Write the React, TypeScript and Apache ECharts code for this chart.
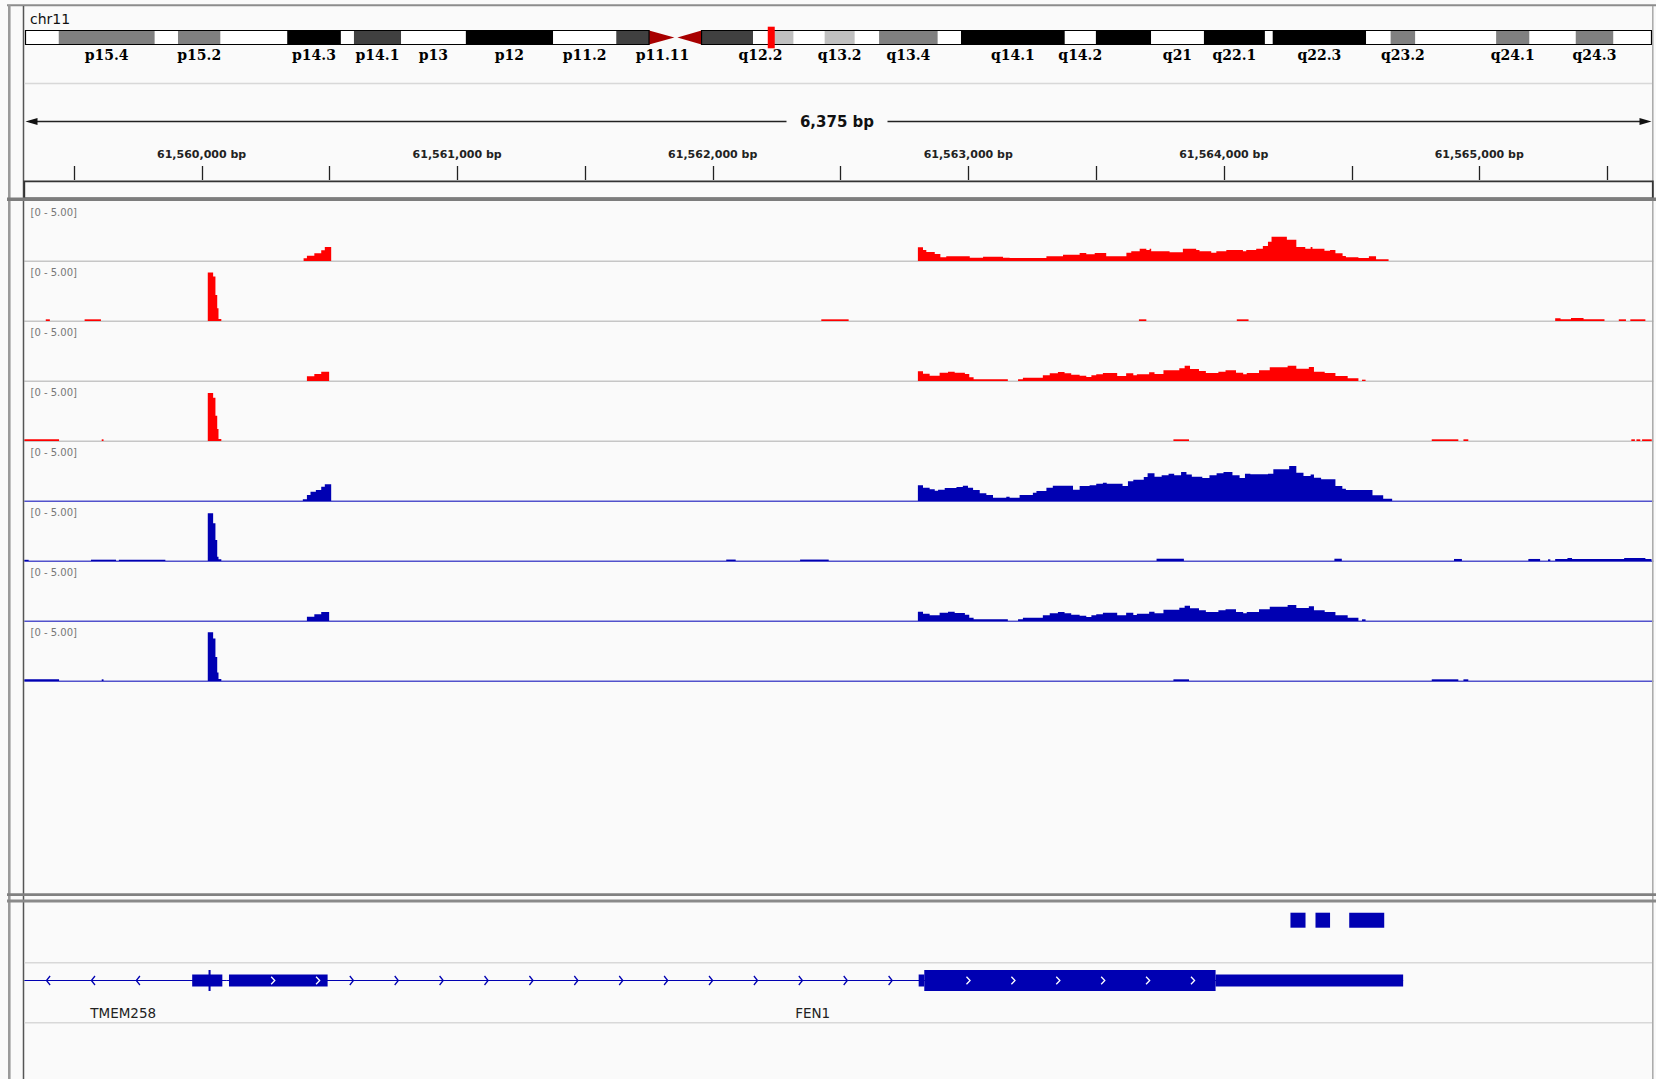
import { useEffect, useRef } from "react";
import * as echarts from "echarts";

// ---------------- data ----------------
const CHROMOSOME = "chr11";
const CHROM_LENGTH_MB = 135.0;
const REGION_START = 61559306;
const REGION_END = 61565681;

const BAND_NAMES = ["p15.5","p15.4","p15.3","p15.2","p15.1","p14.3","p14.2","p14.1","p13","p12","p11.2","p11.12","p11.11","q11","q12.1","q12.2","q12.3","q13.1","q13.2","q13.3","q13.4","q13.5","q14.1","q14.2","q14.3","q21","q22.1","q22.2","q22.3","q23.1","q23.2","q23.3","q24.1","q24.2","q24.3","q25"];
const BAND_STARTS_MB = [0,2.76,10.72,12.66,16.18,21.73,26.18,27.27,31.18,36.56,43.8,49.05,51.77,54.0,56.13,60.4,61.65,63.76,66.35,68.84,70.87,75.73,77.67,86.28,88.87,93.45,97.84,102.9,103.55,111.3,113.34,115.38,122.1,124.86,128.71,131.83];
const BAND_STAINS = ["gneg","gpos50","gneg","gpos50","gneg","gpos100","gneg","gpos75","gneg","gpos100","gneg","gpos75","acen","acen","gpos75","gneg","gpos25","gneg","gpos25","gneg","gpos50","gneg","gpos100","gneg","gpos100","gneg","gpos100","gneg","gpos100","gneg","gpos50","gneg","gpos50","gneg","gpos50","gneg"];
const LABELLED_BANDS = ["p15.4","p15.2","p14.3","p14.1","p13","p12","p11.2","p11.11","q12.2","q13.2","q13.4","q14.1","q14.2","q21","q22.1","q22.3","q23.2","q24.1","q24.3"];

const RULER_TICKS = [61559500,61560000,61560500,61561000,61561500,61562000,61562500,61563000,61563500,61564000,61564500,61565000,61565500];
const RULER_LABELS = [61560000,61561000,61562000,61563000,61564000,61565000];

const DATA_RANGE = [0, 5];

// coverage steps: [offset from REGION_START (bp), value]; each step runs to the next
const TRACK_1 = [[1093,0.22],[1106,0.44],[1135,0.64],[1162,0.89],[1176,1.17],[1201,0],
[3497,1.14],[3517,0.92],[3530,0.75],[3563,0.58],[3585,0.31],[3608,0.39],[3700,0.28],[3752,0.36],[3830,0.28],[3856,0.25],[4000,0.39],[4065,0.53],[4130,0.67],[4156,0.56],[4189,0.67],[4234,0.39],[4313,0.69],[4332,0.81],[4365,1.03],[4391,0.92],[4404,1.03],[4410,0.81],[4482,0.72],[4534,1.03],[4586,0.92],[4599,0.81],[4645,0.69],[4665,0.81],[4704,0.92],[4769,0.81],[4782,0.92],[4821,1.03],[4847,1.25],[4867,1.61],[4881,2.03],[4941,1.78],[4978,1.17],[5013,1.03],[5034,1.17],[5041,1.03],[5088,0.86],[5110,0.92],[5131,0.64],[5159,0.42],[5172,0.31],[5221,0.25],[5262,0.39],[5290,0.14],[5339,0]];
const TRACK_2 = [[84,0.14],[100,0],[236,0.14],[300,0],[718,4.05],[739,3.7],[748,2.17],[755,1.06],[760,0.17],[771,0],[3119,0.14],[3226,0],[4362,0.14],[4391,0],[4745,0.14],[4791,0],[5991,0.22],[6012,0.14],[6053,0.25],[6102,0.14],[6184,0],[6240,0.14],[6268,0],[6285,0.14],[6344,0]];
const TRACK_3 = [[1106,0.39],[1135,0.58],[1162,0.78],[1193,0],
[3497,0.81],[3517,0.61],[3543,0.44],[3582,0.69],[3615,0.78],[3641,0.69],[3681,0.58],[3698,0.31],[3715,0.14],[3849,0],[3889,0.14],[3908,0.28],[3986,0.47],[4013,0.64],[4045,0.75],[4071,0.64],[4097,0.53],[4130,0.44],[4156,0.33],[4176,0.47],[4195,0.56],[4221,0.67],[4277,0.42],[4312,0.64],[4340,0.47],[4354,0.56],[4402,0.72],[4423,0.58],[4458,0.89],[4520,1.06],[4541,1.28],[4562,1.0],[4597,0.83],[4624,0.67],[4673,0.78],[4701,0.89],[4742,0.69],[4770,0.56],[4784,0.67],[4832,0.89],[4874,1.14],[4944,1.28],[4978,1.03],[5027,1.17],[5047,0.78],[5089,0.67],[5131,0.42],[5179,0.22],[5221,0],[5235,0.11],[5249,0]];
const TRACK_4 = [[0,0.14],[136,0],[303,0.14],[310,0],[718,4.0],[739,3.6],[748,2.1],[755,1.0],[760,0.17],[771,0],[4497,0.14],[4558,0],[5508,0.14],[5612,0],[5632,0.14],[5651,0],[6289,0.14],[6303,0],[6309,0.14],[6324,0],[6331,0.14],[6369,0]];
const TRACK_5 = [[1090,0.14],[1106,0.5],[1120,0.78],[1141,0.92],[1162,1.19],[1176,1.39],[1201,0],
[3497,1.31],[3517,1.11],[3543,0.97],[3563,0.86],[3576,0.94],[3602,1.08],[3648,1.17],[3673,1.28],[3693,1.11],[3713,0.92],[3739,0.64],[3765,0.5],[3791,0.28],[3843,0.36],[3856,0.28],[3895,0.5],[3947,0.69],[3961,0.83],[4000,1.11],[4025,1.28],[4104,0.94],[4130,1.25],[4169,1.31],[4195,1.44],[4221,1.53],[4236,1.44],[4298,1.25],[4319,1.64],[4340,1.78],[4381,2.0],[4396,2.31],[4423,2.03],[4451,2.14],[4478,2.28],[4500,2.14],[4527,2.42],[4548,2.2],[4569,2.03],[4610,1.92],[4638,2.14],[4666,2.31],[4693,2.42],[4728,2.14],[4756,1.92],[4777,2.28],[4798,2.22],[4867,2.28],[4888,2.64],[4950,2.92],[4978,2.36],[5006,2.08],[5034,2.2],[5047,1.94],[5075,1.81],[5131,1.25],[5158,1.03],[5172,0.92],[5276,0.47],[5318,0.19],[5353,0]];
const TRACK_6 = [[0,0.1],[17,0],[261,0.11],[359,0],[370,0.11],[552,0],[718,3.97],[739,3.14],[748,1.75],[755,0.36],[760,0.14],[771,0],[2747,0.12],[2784,0],[3036,0.12],[3148,0],[4431,0.19],[4538,0],[5127,0.19],[5156,0],[5595,0.17],[5626,0],[5886,0.17],[5932,0],[5963,0.14],[5972,0],[5991,0.17],[6039,0.25],[6057,0.17],[6261,0.25],[6344,0.17],[6368,0]];
const TRACK_7 = [[1106,0.36],[1135,0.56],[1162,0.75],[1193,0],
[3497,0.78],[3517,0.61],[3543,0.47],[3582,0.69],[3615,0.78],[3641,0.67],[3681,0.53],[3698,0.28],[3715,0.14],[3849,0],[3889,0.14],[3908,0.28],[3986,0.47],[4013,0.64],[4045,0.75],[4071,0.64],[4097,0.53],[4130,0.44],[4156,0.33],[4176,0.47],[4195,0.56],[4221,0.69],[4277,0.47],[4312,0.69],[4340,0.5],[4354,0.61],[4402,0.78],[4423,0.64],[4458,0.94],[4520,1.11],[4541,1.28],[4562,1.06],[4597,0.89],[4624,0.75],[4673,0.89],[4701,0.97],[4742,0.75],[4770,0.64],[4784,0.75],[4832,0.97],[4874,1.19],[4944,1.33],[4978,1.08],[5027,1.22],[5047,0.89],[5089,0.75],[5131,0.47],[5179,0.28],[5221,0],[5235,0.14],[5249,0]];
const TRACK_8 = [[0,0.14],[136,0],[303,0.14],[310,0],[718,4.06],[739,3.55],[748,2.0],[755,0.7],[760,0.17],[771,0],[4497,0.14],[4558,0],[5508,0.14],[5612,0],[5632,0.14],[5651,0]];

const GENE_NAMES = ["TMEM258", "FEN1"];
const GENE_STRANDS = ["-", "+"];
const GENE_SPANS = [[-300, 790], [790, 5396]];
const TMEM258_EXONS = [[657, 775, "utr"], [721, 729, "cds"]];
const FEN1_EXONS = [[801, 1187, "utr"], [3500, 3522, "utr"], [3522, 4662, "cds"], [4662, 5396, "utr3"]];
const OTHER_FEATURES = [[4955, 5014], [5053, 5110], [5185, 5322]];

// ---------------- layout / style ----------------
const W = 1656, H = 1079;
const DL = 24.3, DW = 1629;
const TRACK_TOP = 201, TRACK_H = 60;
const RED = "#ff0000", BLUE = "#0000b2";
const TRACKS = [TRACK_1, TRACK_2, TRACK_3, TRACK_4, TRACK_5, TRACK_6, TRACK_7, TRACK_8];
const TRACK_COLORS = [RED, RED, RED, RED, BLUE, BLUE, BLUE, BLUE];
const BASELINE_COLORS = ["#c6c6c6", "#c6c6c6", "#c6c6c6", "#c6c6c6", "#5252cc", "#5252cc", "#5252cc", "#5252cc"];
const STAIN_COLOR: any = { gneg: "#ffffff", gpos25: "#c0c0c0", gpos50: "#808080", gpos75: "#404040", gpos100: "#000000", acen: "#a80000" };
const GY = 980.5;
const SANS = "'DejaVu Sans', sans-serif";

// split a step list into contiguous runs of non-zero coverage: [[startIdx, endIdx], ...]
function stepRuns(steps: number[][]) {
  const runs: number[][] = [];
  let i = 0;
  while (i < steps.length - 1) {
    if (steps[i][1] > 0) {
      let j = i;
      while (j < steps.length - 1 && steps[j][1] > 0) j++;
      runs.push([i, j]);
      i = j;
    } else i++;
  }
  return runs;
}

function chev(x: number, y: number, dir: number, color: string, hh: number) {
  const pts = dir > 0 ? [[x - 1.8, y - hh], [x + 1.8, y], [x - 1.8, y + hh]] : [[x + 1.8, y - hh], [x - 1.8, y], [x + 1.8, y + hh]];
  return { type: "polyline", shape: { points: pts }, style: { stroke: color, lineWidth: 1.3, fill: null } };
}

function buildOption() {
  const bandEnds = BAND_STARTS_MB.map((s, i) => (i < BAND_STARTS_MB.length - 1 ? BAND_STARTS_MB[i + 1] : CHROM_LENGTH_MB));
  const acenIdx = BAND_STAINS.map((s, i) => (s === "acen" ? i : -1)).filter((i) => i >= 0);
  const arms = [[0, BAND_STARTS_MB[acenIdx[0]]], [bandEnds[acenIdx[acenIdx.length - 1]], CHROM_LENGTH_MB]];

  const grids: any[] = [
    { left: 25.5, top: 30.5, width: 1626, height: 14 },
    { left: DL, top: 160, width: DW, height: 20 },
  ];
  const xAxes: any[] = [
    { gridIndex: 0, type: "value", min: 0, max: CHROM_LENGTH_MB, show: false },
    { gridIndex: 1, type: "value", min: REGION_START, max: REGION_END, show: false },
  ];
  const yAxes: any[] = [
    { gridIndex: 0, type: "value", min: 0, max: 1, show: false },
    { gridIndex: 1, type: "value", min: 0, max: 1, show: false },
  ];
  TRACKS.forEach((_, i) => {
    grids.push({ left: DL, top: TRACK_TOP + TRACK_H * i, width: DW, height: TRACK_H });
    xAxes.push({ gridIndex: 2 + i, type: "value", min: REGION_START, max: REGION_END, show: false });
    yAxes.push({ gridIndex: 2 + i, type: "value", min: DATA_RANGE[0], max: DATA_RANGE[1], show: false });
  });
  const GI = 2 + TRACKS.length;
  grids.push({ left: DL, top: 903, width: DW, height: 118 });
  xAxes.push({ gridIndex: GI, type: "value", min: REGION_START, max: REGION_END, show: false });
  yAxes.push({ gridIndex: GI, type: "value", min: 0, max: 1, show: false });

  const series: any[] = [];
  // ideogram bands
  series.push({
    type: "custom", xAxisIndex: 0, yAxisIndex: 0, clip: false, silent: true,
    data: BAND_STARTS_MB.map((s, i) => [s, bandEnds[i]]),
    encode: { x: [0, 1] },
    renderItem: (params: any, api: any) => {
      const i = params.dataIndex;
      const a = api.coord([api.value(0), 1]);
      const b = api.coord([api.value(1), 0]);
      const top = a[1], bottom = b[1], mid = (top + bottom) / 2;
      const stain = BAND_STAINS[i];
      if (stain === "acen") {
        const isP = BAND_NAMES[i].startsWith("p");
        const pts = isP ? [[a[0], top], [a[0], bottom], [b[0] - 1.5, mid]] : [[b[0], top], [b[0], bottom], [a[0] + 1.5, mid]];
        return { type: "polygon", shape: { points: pts }, style: { fill: STAIN_COLOR.acen } };
      }
      return { type: "rect", shape: { x: a[0], y: top, width: b[0] - a[0] + 0.4, height: bottom - top }, style: { fill: STAIN_COLOR[stain] } };
    },
  });
  // arm outlines
  series.push({
    type: "custom", xAxisIndex: 0, yAxisIndex: 0, clip: false, silent: true,
    data: arms, encode: { x: [0, 1] },
    renderItem: (params: any, api: any) => {
      const a = api.coord([api.value(0), 1]);
      const b = api.coord([api.value(1), 0]);
      return { type: "rect", shape: { x: a[0], y: a[1], width: b[0] - a[0], height: b[1] - a[1] }, style: { fill: null, stroke: "#000", lineWidth: 1.2 } };
    },
  });
  // current region marker
  series.push({
    type: "custom", xAxisIndex: 0, yAxisIndex: 0, clip: false, silent: true,
    data: [[REGION_START / 1e6, REGION_END / 1e6]], encode: { x: [0, 1] },
    renderItem: (params: any, api: any) => {
      const a = api.coord([api.value(0), 1]);
      const b = api.coord([api.value(1), 0]);
      const w = Math.max(b[0] - a[0], 7);
      return { type: "rect", shape: { x: a[0] + 0.8, y: a[1] - 3.8, width: w, height: b[1] - a[1] + 7.6 }, style: { fill: "#ff0000" } };
    },
  });
  // band labels
  const labelled = BAND_NAMES.map((n, i) => i).filter((i) => LABELLED_BANDS.includes(BAND_NAMES[i]));
  series.push({
    type: "custom", xAxisIndex: 0, yAxisIndex: 0, clip: false, silent: true,
    data: labelled.map((i) => [(BAND_STARTS_MB[i] + bandEnds[i]) / 2, i]), encode: { x: 0 },
    renderItem: (params: any, api: any) => {
      const p = api.coord([api.value(0), 0]);
      return { type: "text", style: { text: BAND_NAMES[api.value(1)], x: p[0], y: 55, textAlign: "center", textVerticalAlign: "middle", align: "center", verticalAlign: "middle", font: "bold 14px 'DejaVu Serif', serif", fill: "#000" } };
    },
  });
  // ruler ticks
  series.push({
    type: "custom", xAxisIndex: 1, yAxisIndex: 1, clip: false, silent: true,
    data: RULER_TICKS.map((t) => [t]), encode: { x: 0 },
    renderItem: (params: any, api: any) => {
      const x = Math.round(api.coord([api.value(0), 0])[0]) + 0.5;
      return { type: "line", shape: { x1: x, y1: 166, x2: x, y2: 180 }, style: { stroke: "#222", lineWidth: 1.3 } };
    },
  });
  series.push({
    type: "custom", xAxisIndex: 1, yAxisIndex: 1, clip: false, silent: true,
    data: RULER_LABELS.map((t) => [t]), encode: { x: 0 },
    renderItem: (params: any, api: any) => {
      const v = api.value(0);
      const x = api.coord([v, 0])[0];
      return { type: "text", style: { text: Number(v).toLocaleString("en-US") + " bp", x, y: 154.5, textAlign: "center", textVerticalAlign: "middle", align: "center", verticalAlign: "middle", font: "bold 11px " + SANS, fill: "#222" } };
    },
  });
  // coverage tracks: each contiguous run drawn as one step polygon
  TRACKS.forEach((steps, i) => {
    const color = TRACK_COLORS[i];
    const runs = stepRuns(steps);
    series.push({
      type: "custom", xAxisIndex: 2 + i, yAxisIndex: 2 + i, clip: true, silent: true,
      data: runs.map(([a, b]) => [REGION_START + steps[a][0], REGION_START + steps[b][0], a, b]),
      encode: { x: [0, 1] },
      renderItem: (params: any, api: any) => {
        const a = api.value(2), b = api.value(3);
        const base = api.coord([REGION_START + steps[a][0], 0])[1];
        const pts: number[][] = [];
        pts.push([api.coord([REGION_START + steps[a][0], 0])[0], base]);
        for (let k = a; k < b; k++) {
          const x0 = api.coord([REGION_START + steps[k][0], 0])[0];
          const x1 = api.coord([REGION_START + steps[k + 1][0], 0])[0];
          let y = api.coord([REGION_START + steps[k][0], steps[k][1]])[1];
          if (base - y < 1) y = base - 1;
          pts.push([x0, y]);
          pts.push([Math.max(x1, x0 + 1), y]);
        }
        pts.push([pts[pts.length - 1][0], base]);
        return { type: "polygon", shape: { points: pts }, style: { fill: color } };
      },
    });
  });
  // genes
  const geneExons = [TMEM258_EXONS, FEN1_EXONS];
  series.push({
    type: "custom", xAxisIndex: GI, yAxisIndex: GI, clip: true, silent: true,
    data: GENE_SPANS.map((s) => [REGION_START + s[0], REGION_START + s[1]]), encode: { x: [0, 1] },
    renderItem: (params: any, api: any) => {
      const gi = params.dataIndex;
      const px = (off: number) => api.coord([REGION_START + off, 0])[0];
      const dir = GENE_STRANDS[gi] === "+" ? 1 : -1;
      const [gs, ge] = GENE_SPANS[gi];
      const x0 = Math.max(px(gs), DL), x1 = Math.min(px(ge), DL + DW);
      const children: any[] = [];
      children.push({ type: "line", shape: { x1: x0, y1: GY, x2: x1, y2: GY }, style: { stroke: BLUE, lineWidth: 1.2 } });
      const exons: any[] = geneExons[gi];
      const ranges = exons.map((e) => [px(e[0]), px(e[1])]).sort((a, b) => a[0] - b[0]);
      const merged: number[][] = [];
      for (const r of ranges) {
        const last = merged[merged.length - 1];
        if (last && r[0] <= last[1] + 0.5) last[1] = Math.max(last[1], r[1]);
        else merged.push([r[0], r[1]]);
      }
      let cursor = x0;
      const gaps: number[][] = [];
      for (const m of merged) {
        if (m[0] > cursor) gaps.push([cursor, m[0]]);
        cursor = Math.max(cursor, m[1]);
      }
      if (x1 > cursor) gaps.push([cursor, x1]);
      for (const [a, b] of gaps) for (let x = a + 24; x < b - 14; x += 44.9) children.push(chev(x, GY, dir, BLUE, 4.5));
      for (const e of exons) {
        const a = px(e[0]), b = px(e[1]);
        const h = e[2] === "cds" ? 21 : 12;
        children.push({ type: "rect", shape: { x: a, y: GY - h / 2, width: Math.max(b - a, 1.5), height: h }, style: { fill: BLUE } });
      }
      for (const e of exons) {
        if (e[2] === "utr3") continue;
        const a = px(e[0]), b = px(e[1]);
        for (let x = a + 44; x < b - 7; x += 44.9) children.push(chev(x, GY, dir, "#ffffff", 3.8));
      }
      return { type: "group", children };
    },
  });
  series.push({
    type: "custom", xAxisIndex: GI, yAxisIndex: GI, clip: true, silent: true,
    data: OTHER_FEATURES.map((f) => [REGION_START + f[0], REGION_START + f[1]]), encode: { x: [0, 1] },
    renderItem: (params: any, api: any) => {
      const a = api.coord([api.value(0), 0])[0];
      const b = api.coord([api.value(1), 0])[0];
      return { type: "rect", shape: { x: a, y: 912.7, width: b - a, height: 15 }, style: { fill: BLUE } };
    },
  });
  series.push({
    type: "custom", xAxisIndex: GI, yAxisIndex: GI, clip: false, silent: true,
    data: GENE_SPANS.map((s, i) => {
      const a = Math.max(s[0], 0), b = Math.min(s[1], REGION_END - REGION_START);
      return [REGION_START + (a + b) / 2, i];
    }),
    encode: { x: 0 },
    renderItem: (params: any, api: any) => {
      const x = api.coord([api.value(0), 0])[0];
      return { type: "text", style: { text: GENE_NAMES[api.value(1)], x: x - 2, y: 1013, textAlign: "center", textVerticalAlign: "middle", align: "center", verticalAlign: "middle", font: "13.5px " + SANS, fill: "#222" } };
    },
  });

  // static decorations
  const g: any[] = [];
  const line = (x1: number, y1: number, x2: number, y2: number, stroke: string, lw: number, z = 50) =>
    g.push({ type: "line", silent: true, z, shape: { x1, y1, x2, y2 }, style: { stroke, lineWidth: lw } });
  // baselines (under data)
  TRACKS.forEach((_, i) => {
    const y = TRACK_TOP + TRACK_H * (i + 1) + 0.2;
    line(DL, y, DL + DW, y, BASELINE_COLORS[i], i < 4 ? 1.4 : 1.6, 0);
    g.push({ type: "text", silent: true, z: 50, style: { text: `[${DATA_RANGE[0]} - ${DATA_RANGE[1].toFixed(2)}]`, x: 30.5, y: TRACK_TOP + TRACK_H * i + 11.5, textAlign: "left", textVerticalAlign: "middle", align: "left", verticalAlign: "middle", font: "10px " + SANS, fill: "#777" } });
  });
  // frame
  line(7, 5.3, W, 5.3, "#8c8c8c", 2);
  line(9.3, 5, 9.3, H, "#9a9a9a", 2.6);
  line(23.5, 6, 23.5, H, "#555", 1.5);
  line(1652.8, 6, 1652.8, H, "#a8a8a8", 1.5);
  line(DL, 83.4, 1652, 83.4, "#d8d8d8", 1.5);
  g.push({ type: "rect", silent: true, z: 50, shape: { x: DL, y: 181.3, width: 1628.5, height: 17 }, style: { fill: null, stroke: "#333", lineWidth: 1.8 } });
  line(7, 199.2, W, 199.2, "#7c7c7c", 3.4);
  line(7, 894.7, W, 894.7, "#808080", 2.8);
  line(7, 901, W, 901, "#8a8a8a", 3.2);
  line(DL, 962.7, 1652, 962.7, "#d8d8d8", 1.5);
  line(DL, 1022.7, 1652, 1022.7, "#d8d8d8", 1.5);
  // chromosome name
  g.push({ type: "text", silent: true, z: 50, style: { text: CHROMOSOME, x: 30, y: 18.5, textAlign: "left", textVerticalAlign: "middle", align: "left", verticalAlign: "middle", font: "14px " + SANS, fill: "#111" } });
  // span indicator
  const spanText = (REGION_END - REGION_START).toLocaleString("en-US") + " bp";
  line(30, 121.5, 786.5, 121.5, "#222", 1.5);
  line(887.5, 121.5, 1646, 121.5, "#222", 1.5);
  g.push({ type: "polygon", silent: true, z: 50, shape: { points: [[25.5, 121.5], [37.5, 118], [37.5, 125]] }, style: { fill: "#111" } });
  g.push({ type: "polygon", silent: true, z: 50, shape: { points: [[1651.5, 121.5], [1639.5, 118], [1639.5, 125]] }, style: { fill: "#111" } });
  g.push({ type: "text", silent: true, z: 50, style: { text: spanText, x: 837, y: 122, textAlign: "center", textVerticalAlign: "middle", align: "center", verticalAlign: "middle", font: "bold 15px " + SANS, fill: "#111" } });

  return {
    animation: false,
    backgroundColor: "#fafafa",
    textStyle: { fontFamily: SANS },
    grid: grids,
    xAxis: xAxes,
    yAxis: yAxes,
    series,
    graphic: { elements: g },
  };
}

export default function App() {
  const ref = useRef<HTMLDivElement>(null);
  useEffect(() => {
    const el = ref.current;
    if (!el) return;
    const chart = echarts.init(el, undefined, { renderer: "svg", width: W, height: H });
    chart.setOption(buildOption() as any);
    return () => chart.dispose();
  }, []);
  return <div ref={ref} style={{ position: "absolute", left: 0, top: 0, width: W, height: H }} />;
}
